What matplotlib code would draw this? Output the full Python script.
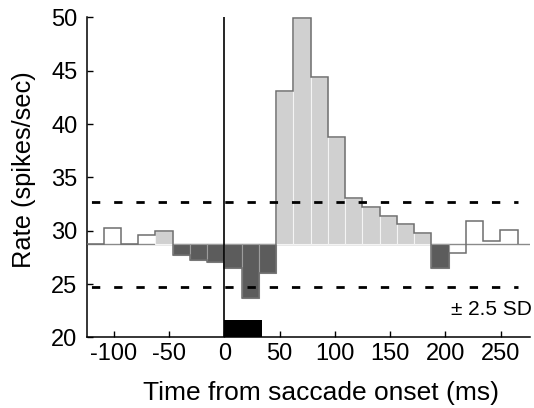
import numpy as np
import matplotlib
matplotlib.use('Agg')
import matplotlib.pyplot as plt

plt.rcParams['font.family'] = ['Liberation Sans', 'DejaVu Sans']
plt.rcParams['axes.unicode_minus'] = False

# bin settings (ms)
bin_width = 15.6
bin_index = np.arange(-8, 17)

# firing rate per bin (spikes/sec)
rates = [28.72, 30.3, 28.72, 29.6, 30.0, 27.7, 27.25, 27.1, 26.5, 23.7, 26.05,
         43.1, 49.9, 44.4, 38.75, 33.1, 32.25, 31.35, 30.6, 29.75,
         26.55, 27.95, 30.95, 29.05, 30.05]
# w = outline only, l = light (above), d = dark (below)
shade = ['w', 'w', 'w', 'w', 'l', 'd', 'd', 'd', 'd', 'd', 'd',
         'l', 'l', 'l', 'l', 'l', 'l', 'l', 'l', 'l',
         'd', 'w', 'w', 'w', 'w']

mean_rate = 28.72
sd_band = 4.0          # 2.5 SD
saccade = (0, 34)      # saccade duration bar
sac_height = 1.6

edges = bin_width * np.append(bin_index, bin_index[-1] + 1)
lefts = edges[:-1]
rates = np.array(rates)

fig = plt.figure(figsize=(5.34, 4.08), dpi=100)
ax = fig.add_axes([0.162, 0.173, 0.8305, 0.7846])

ax.axhline(mean_rate, color='#8a8a8a', lw=1, zorder=1)

for x0, r, s in zip(lefts, rates, shade):
    if s == 'l':
        ax.bar(x0, r - mean_rate, bin_width, bottom=mean_rate, align='edge',
               color='#d0d0d0', edgecolor='#f4f4f4', lw=0.8, zorder=2)
    elif s == 'd':
        ax.bar(x0, r - mean_rate, bin_width, bottom=mean_rate, align='edge',
               color='#5c5c5c', edgecolor='#9c9c9c', lw=0.8, zorder=2)

ax.stairs(rates, edges, baseline=mean_rate, color='#6e6e6e', lw=1.1, zorder=3)

ax.hlines([mean_rate + sd_band, mean_rate - sd_band], edges[0], edges[-1],
          colors='black', lw=2, linestyles=[(6.4, (3, 5))], zorder=4)

ax.axvline(0, color='black', lw=1.2, zorder=5)
ax.bar(saccade[0], sac_height, saccade[1] - saccade[0], bottom=20, align='edge',
       color='black', zorder=5)

ax.text(278, 22.6, '± 2.5 SD', ha='right', va='center', fontsize=15, clip_on=False)

ax.set_xlim(edges[0], 276.5)
ax.set_ylim(20, 50)
ax.set_xticks(np.arange(-100, 251, 50))
ax.set_yticks(np.arange(20, 51, 5))
for side in ['top', 'right']:
    ax.spines[side].set_visible(False)
for side in ['left', 'bottom']:
    ax.spines[side].set_linewidth(1.1)
ax.tick_params(direction='in', length=4, width=1, labelsize=17)
ax.tick_params(axis='x', pad=4)
ax.tick_params(axis='y', pad=6.5)
ax.set_xlabel('Time from saccade onset (ms)', fontsize=19, va='center')
ax.xaxis.set_label_coords(0.529, -0.174)
ax.set_ylabel('Rate (spikes/sec)', fontsize=18.3, va='center')
ax.yaxis.set_label_coords(-0.142, 0.523)

fig.savefig('out.png', dpi=100)
